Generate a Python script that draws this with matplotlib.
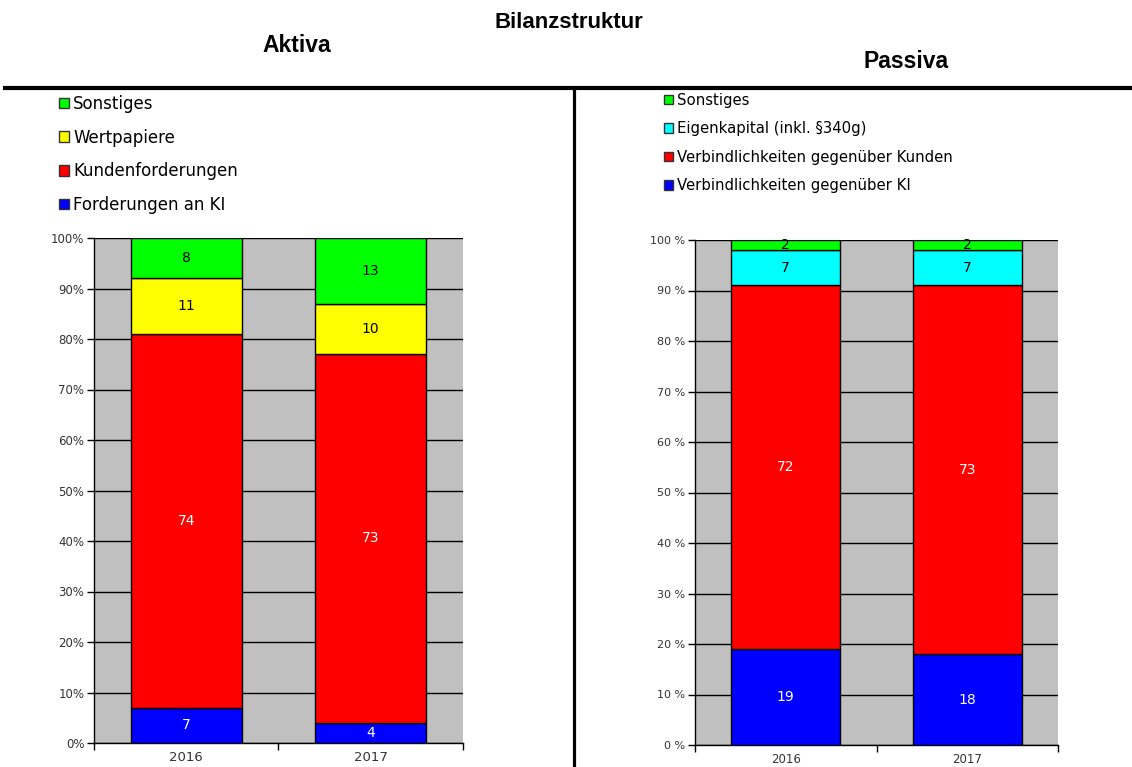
import numpy as np
import matplotlib
matplotlib.use('Agg')
import matplotlib.pyplot as plt
from matplotlib.patches import Patch, Rectangle
from matplotlib.lines import Line2D

plt.rcParams['font.family'] = ['DejaVu Sans']

# Daten
jahre = ['2016', '2017']

aktiva_namen = ['Forderungen an KI', 'Kundenforderungen', 'Wertpapiere', 'Sonstiges']
aktiva_farben = ['#0000FF', '#FF0000', '#FFFF00', '#00FF00']
aktiva_ki = [7, 4]
aktiva_kunden = [74, 73]
aktiva_wp = [11, 10]
aktiva_sonst = [8, 13]

passiva_namen = ['Verbindlichkeiten gegenüber KI', 'Verbindlichkeiten gegenüber Kunden',
                 'Eigenkapital (inkl. §340g)', 'Sonstiges']
passiva_farben = ['#0000FF', '#FF0000', '#00FFFF', '#00FF00']
passiva_ki = [19, 18]
passiva_kunden = [72, 73]
passiva_ek = [7, 7]
passiva_sonst = [2, 2]

W, H = 1132, 767
fig = plt.figure(figsize=(W / 100, H / 100), dpi=100)


def px_axes(x0, y_top, x1, y_bot):
    return fig.add_axes([x0 / W, 1 - y_bot / H, (x1 - x0) / W, (y_bot - y_top) / H])


def stapel(ax, reihen, farben, schrift, tick_schrift, jahr_schrift, prozent_fmt):
    x = np.arange(len(jahre))
    unten = np.zeros(len(jahre))
    for werte, farbe in zip(reihen, farben):
        bars = ax.bar(x, werte, width=0.6, bottom=unten, color=farbe,
                      edgecolor='black', linewidth=1, zorder=3)
        txt_farbe = 'white' if farbe in ('#0000FF', '#FF0000') else 'black'
        ax.bar_label(bars, labels=[str(v) for v in werte], label_type='center',
                     color=txt_farbe, fontsize=schrift)
        unten += np.array(werte)
    ax.set_facecolor('#C0C0C0')
    ax.set_xlim(-0.5, 1.5)
    ax.set_ylim(0, 100)
    ax.set_yticks(np.arange(0, 101, 10))
    ax.set_yticklabels([prozent_fmt % v for v in range(0, 101, 10)],
                       fontsize=tick_schrift, color='#333333')
    ax.yaxis.grid(True, color='black', linewidth=1)
    ax.set_axisbelow(True)
    ax.set_xticks([-0.5, 0.5, 1.5])
    ax.set_xticklabels(['', '', ''])
    ax.set_xticks(x, minor=True)
    ax.set_xticklabels(jahre, minor=True, fontsize=jahr_schrift, color='#333333')
    ax.tick_params(axis='x', which='minor', length=0, pad=6)
    ax.tick_params(axis='both', which='major', length=5, width=1, direction='out', pad=2)
    for s in ('top', 'right'):
        ax.spines[s].set_visible(False)
    for s in ('left', 'bottom'):
        ax.spines[s].set_linewidth(1)


ax1 = px_axes(94, 238, 463, 743)
stapel(ax1, [aktiva_ki, aktiva_kunden, aktiva_wp, aktiva_sonst], aktiva_farben,
       10, 8.5, 9.5, '%d%%')

ax2 = px_axes(695, 240, 1058, 745)
stapel(ax2, [passiva_ki, passiva_kunden, passiva_ek, passiva_sonst], passiva_farben,
       10, 8, 8.5, '%d %%')

# Legenden
def legende(namen, farben, x, y, groesse, abstand):
    handles = [Patch(facecolor=f, edgecolor='#333333', linewidth=1) for f in farben][::-1]
    fig.legend(handles, namen[::-1], loc='upper left', bbox_to_anchor=(x / W, 1 - y / H),
               frameon=False, fontsize=groesse, handlelength=0.6, handleheight=0.6,
               handletextpad=0.25, labelspacing=abstand, borderaxespad=0, borderpad=0)

legende(aktiva_namen, aktiva_farben, 59, 95, 12, 0.94)
legende(passiva_namen, passiva_farben, 664, 93, 10.7, 0.9)

# Titel
fig.text(569 / W, 1 - 23 / H, 'Bilanzstruktur', ha='center', va='center',
         fontsize=16, fontweight='bold', family='Liberation Sans')
fig.text(297 / W, 1 - 46 / H, 'Aktiva', ha='center', va='center',
         fontsize=16.5, fontweight='bold', family='Liberation Sans')
fig.text(906 / W, 1 - 62 / H, 'Passiva', ha='center', va='center',
         fontsize=16.5, fontweight='bold', family='Liberation Sans')

# Trennlinien
fig.add_artist(Line2D([5 / W, 1130 / W], [1 - 88 / H, 1 - 88 / H], color='black',
                      linewidth=3, transform=fig.transFigure))
fig.add_artist(Rectangle((198 / W, 1 - 91 / H), 200 / W, 2 / H, color='white',
                         transform=fig.transFigure))
fig.add_artist(Line2D([574 / W, 574 / W], [1 - 88 / H, 0], color='black',
                      linewidth=2.3, transform=fig.transFigure))

fig.savefig('out.png', dpi=100)
